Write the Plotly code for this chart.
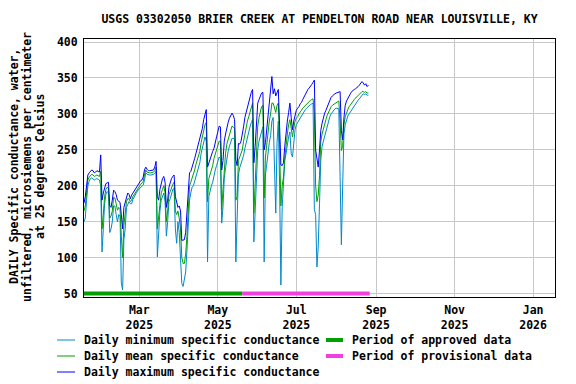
import pandas as pd
import plotly.graph_objects as go

start_date = "2025-01-17"
daily_max = [176,185,200,215,218,220,222,221,218,219,
221,220,219,243,180,190,198,203,204,205,
172,170,180,194,192,188,180,178,177,160,
140,170,178,185,190,188,182,187,190,193,
196,199,202,205,207,208,212,222,226,223,
221,221,221,221,222,226,234,185,180,195,
205,210,213,205,170,180,198,205,210,213,
215,185,175,170,172,165,124,125,125,135,
160,185,218,220,225,230,238,245,252,258,
265,272,280,292,300,306,226,232,238,242,
248,252,262,268,275,283,282,222,235,262,
272,282,288,294,298,301,298,292,236,228,
259,258,262,270,282,295,302,308,316,325,
330,334,232,255,290,315,320,325,329,330,
250,260,280,300,320,335,352,328,335,325,
330,334,282,229,228,232,255,275,290,302,
315,295,278,290,300,305,308,310,314,316,
320,324,328,331,334,336,338,341,344,347,
250,236,226,250,277,287,295,301,305,310,
315,320,323,325,327,328,329,330,331,331,
277,264,295,312,318,322,325,328,331,333,
334,335,336,338,340,343,345,343,340,342,
338,340]
daily_mean = [165,172,190,208,212,215,216,215,213,214,
215,214,213,220,140,160,185,195,198,197,
155,158,165,184,183,175,166,170,168,130,
100,145,160,178,182,182,178,180,185,188,
192,195,198,200,202,204,206,215,222,219,
218,218,218,218,219,221,226,140,160,180,
190,195,200,190,150,165,188,192,198,202,
205,165,160,165,155,140,100,92,92,105,
130,160,200,205,210,215,222,230,235,240,
248,260,268,280,285,288,178,210,215,220,
228,238,245,250,255,262,262,166,195,230,
245,258,265,272,280,283,282,280,180,185,
235,240,245,250,262,272,280,290,296,302,
310,315,162,210,255,283,295,303,310,312,
183,240,258,275,290,300,315,315,310,302,
312,315,258,172,200,212,238,258,272,285,
292,280,268,280,290,294,296,300,302,305,
308,310,312,314,316,318,319,320,321,300,
200,178,187,214,262,272,280,288,292,298,
302,307,310,312,313,314,316,317,318,290,
249,255,285,296,302,306,310,313,316,318,
320,322,324,326,328,329,331,331,330,331,
329,329]
daily_min = [150,155,180,200,206,210,211,210,208,209,
210,209,208,200,108,140,175,188,192,190,
135,140,150,172,172,160,150,160,158,65,
55,125,140,170,175,178,175,175,181,185,
188,191,194,196,198,200,201,208,218,216,
215,215,215,215,216,217,220,101,135,165,
180,185,190,178,130,150,178,182,190,195,
196,140,120,150,135,95,64,60,70,80,
110,140,180,190,198,200,207,215,222,225,
232,245,252,262,268,262,94,185,195,200,
205,215,222,228,235,240,238,148,170,210,
225,240,248,255,262,266,266,265,94,150,
215,225,230,235,242,252,260,270,275,282,
288,292,122,175,215,250,262,270,278,282,
94,215,230,250,260,270,290,295,240,162,
260,290,200,62,170,200,235,245,258,268,
275,245,240,265,278,285,288,292,295,298,
301,304,306,308,310,312,313,314,315,167,
160,87,115,175,236,255,262,270,276,283,
290,296,300,303,305,307,308,308,307,213,
118,200,272,285,292,297,300,303,306,309,
312,315,317,319,321,323,326,328,327,328,
326,326]
approved_period = ["2025-01-17", "2025-05-20"]
provisional_period = ["2025-05-20", "2025-08-27"]
tick_dates = ["2025-03-01", "2025-05-01", "2025-07-01", "2025-09-01", "2025-11-01", "2026-01-01"]
tick_labels = ["Mar<br>2025", "May<br>2025", "Jul<br>2025", "Sep<br>2025", "Nov<br>2025", "Jan<br>2026"]
y_ticks = [50, 100, 150, 200, 250, 300, 350, 400]

dates = pd.date_range(start_date, periods=len(daily_max), freq="D")

C_MIN = "#0088CC"
C_MEAN = "#00A000"
C_MAX = "#0000FF"
C_APP = "#00A000"
C_PROV = "#F040E0"
FONT = "DejaVu Sans Mono"
FS = 11.5

W, H = 576, 384
L, R, T, B = 84, 21, 39, 87
pw, ph = W - L - R, H - T - B

fig = go.Figure()
fig.add_trace(go.Scatter(x=dates, y=daily_min, mode="lines", line=dict(color=C_MIN, width=1),
                         name="Daily minimum specific conductance"))
fig.add_trace(go.Scatter(x=dates, y=daily_mean, mode="lines", line=dict(color=C_MEAN, width=1),
                         name="Daily mean specific conductance"))
fig.add_trace(go.Scatter(x=dates, y=daily_max, mode="lines", line=dict(color=C_MAX, width=1),
                         name="Daily maximum specific conductance"))
fig.add_trace(go.Scatter(x=approved_period, y=[50, 50], mode="lines", line=dict(color=C_APP, width=4),
                         name="Period of approved data"))
fig.add_trace(go.Scatter(x=provisional_period, y=[50, 50], mode="lines", line=dict(color=C_PROV, width=4),
                         name="Period of provisional data"))

def px2x(px):
    return (px - L) / pw

def py2y(py):
    return (H - B - py) / ph

# manual legend
legend_items = [
    (57, 75, 82, 340, C_MIN, 1, "Daily minimum specific conductance"),
    (57, 75, 82, 356, C_MEAN, 1, "Daily mean specific conductance"),
    (57, 75, 82, 372, C_MAX, 1, "Daily maximum specific conductance"),
    (326, 343, 350, 340, C_APP, 4, "Period of approved data"),
    (326, 343, 350, 356, C_PROV, 4, "Period of provisional data"),
]
shapes = []
annotations = []
for x0, x1, tx, yy, col, w, txt in legend_items:
    shapes.append(dict(type="line", xref="paper", yref="paper", x0=px2x(x0), x1=px2x(x1),
                       y0=py2y(yy), y1=py2y(yy), line=dict(color=col, width=w)))
    annotations.append(dict(text=txt, xref="paper", yref="paper", x=px2x(tx), y=py2y(yy),
                            xanchor="left", yanchor="middle", showarrow=False,
                            font=dict(family=FONT, size=FS, color="black", weight="bold")))

# y-axis title lines
ytitle = ["DAILY Specific conductance, water,", "unfiltered, microsiemens per centimeter",
          "at 25 degrees Celsius"]
for px, txt in zip([14, 27, 40], ytitle):
    annotations.append(dict(text=txt, xref="paper", yref="paper", x=px2x(px), y=py2y(167),
                            xanchor="center", yanchor="middle", textangle=-90, showarrow=False,
                            font=dict(family=FONT, size=FS, color="black", weight="bold")))

fig.update_layout(
    width=W, height=H,
    margin=dict(l=L, r=R, t=T, b=B),
    paper_bgcolor="white", plot_bgcolor="white",
    showlegend=False,
    font=dict(family=FONT, size=FS, color="black", weight="bold"),
    title=dict(text="USGS 03302050 BRIER CREEK AT PENDELTON ROAD NEAR LOUISVILLE, KY",
               x=0.5, xref="paper", xanchor="center", y=1 - 19 / H, yref="container",
               yanchor="middle", font=dict(family=FONT, size=FS, color="black", weight="bold")),
    shapes=shapes, annotations=annotations,
)
fig.update_xaxes(range=["2025-01-17", "2026-01-18"], tickvals=tick_dates, ticktext=tick_labels,
                 showgrid=True, gridcolor="#C8C8C8", gridwidth=1, showline=True, linecolor="black",
                 linewidth=1, mirror=True, ticks="outside", ticklen=2, tickcolor="white",
                 zeroline=False, tickangle=0)
fig.update_yaxes(range=[45.3, 404.2], tickvals=y_ticks, showgrid=True, gridcolor="#C8C8C8",
                 gridwidth=1, showline=True, linecolor="black", linewidth=1, mirror=True,
                 ticks="outside", ticklen=3, tickcolor="white", zeroline=False)

fig.write_html("out.html", config={"displayModeBar": False},
               post_script="document.body.style.margin='0';document.body.style.overflow='hidden';")
